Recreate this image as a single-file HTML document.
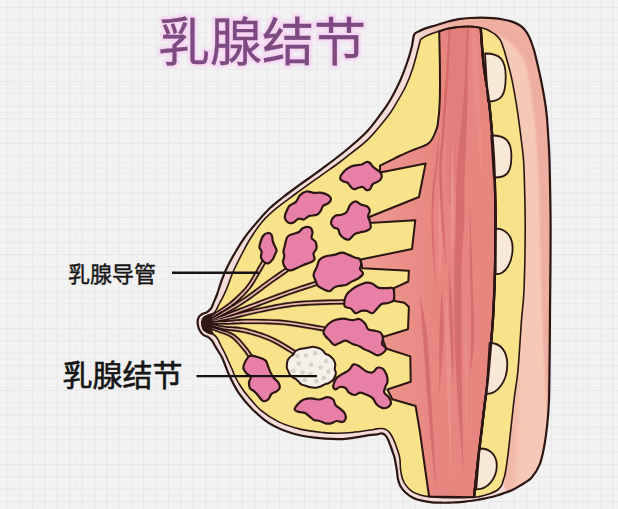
<!DOCTYPE html>
<html><head><meta charset="utf-8"><title>乳腺结节</title>
<style>html,body{margin:0;padding:0;background:#f3f3f4;font-family:"Liberation Sans",sans-serif}svg{display:block}</style></head>
<body><svg width="618" height="509" viewBox="0 0 618 509">
<defs>
<filter id="b1" x="-20%" y="-20%" width="140%" height="140%"><feGaussianBlur stdDeviation="1.3"/></filter>
<filter id="b3" x="-50%" y="-50%" width="200%" height="200%"><feGaussianBlur stdDeviation="0.5"/></filter>
<filter id="b4" x="-100%" y="-10%" width="300%" height="120%"><feGaussianBlur stdDeviation="0.45"/></filter>
<filter id="b5" x="-50%" y="-20%" width="200%" height="140%"><feGaussianBlur stdDeviation="2.5"/></filter>
<filter id="b2" x="-10%" y="-30%" width="120%" height="160%"><feGaussianBlur stdDeviation="0.9"/></filter>
<linearGradient id="mg" gradientUnits="userSpaceOnUse" x1="365" y1="0" x2="436" y2="0"><stop offset="0" stop-color="#ed9a92"/><stop offset="1" stop-color="#e7867f"/></linearGradient>
<linearGradient id="tg" gradientUnits="userSpaceOnUse" x1="414" y1="0" x2="452" y2="0"><stop offset="0" stop-color="#f4ddd8"/><stop offset="1" stop-color="#efafa0"/></linearGradient>
<clipPath id="cm"><path d="M480.7 27.7C481.2 33.9 482.3 53.2 483.6 64.7C484.9 76.2 487 86.2 488.4 97C489.8 107.8 490.8 118.9 491.7 129.4C492.6 139.9 493.4 148.2 494 160C494.6 171.8 495.1 188.2 495.3 200C495.6 211.8 495.6 219.3 495.5 231C495.4 242.7 495.3 256.8 495 270C494.7 283.2 494.2 296.7 493.5 310C492.8 323.3 491.5 338 490.5 350C489.5 362 488.6 372.8 487.6 382C486.6 391.2 485.6 396.6 484.6 405C483.6 413.4 482.6 422.4 481.4 432.4C480.2 442.3 478.7 453.9 477.5 464.7C476.3 475.5 474.6 491.8 474 497.2L429.1 496.6L425 468L420 432.4L415.6 406L392.3 399.2L387.4 389.5L410.7 381.7L410.3 356.4L386 348.5L382 337.2L408 329.3L408.9 307L404.4 302.7L393.3 300.8L394 288.2L408.3 281.5L408.9 270.8L362.3 268.3L360.7 259.5L412 249L415.3 220.3L368.5 223L369.8 216.7L419 197L425.6 163.6L380.2 172.4L380 165.7C381.6 164.9 386.5 162.5 389.7 160.9C392.9 159.3 396.2 157.5 399.4 156C402.6 154.5 405.9 153.1 409.1 151.7C412.3 150.3 415.9 149 418.8 147.8C421.7 146.6 424.5 145.9 426.6 144.7C428.7 143.5 429.8 142.4 431.2 140.5C432.6 138.6 433.9 135.8 435 133C436.1 130.2 437 129.5 437.8 124C438.6 118.5 439.5 109.9 439.8 100C440.1 90.1 440 76.2 439.9 64.7C439.8 53.2 439.3 36.9 439.2 31.3C440.6 30.9 444.1 29.5 447.3 28.8C450.5 28.1 454.8 27.3 458.6 26.9C462.4 26.5 466.3 26.4 470 26.5C473.7 26.6 478.9 27.5 480.7 27.7Z"/></clipPath>
</defs>
<rect width="618" height="509" fill="#f3f3f4"/>
<path d="M14.1 0V509M26.4 0V509M38.8 0V509M51.1 0V509M63.5 0V509M75.8 0V509M88.2 0V509M100.5 0V509M112.9 0V509M125.2 0V509M137.6 0V509M149.9 0V509M162.3 0V509M174.6 0V509M187 0V509M199.3 0V509M211.7 0V509M224 0V509M236.4 0V509M248.7 0V509M261.1 0V509M273.4 0V509M285.8 0V509M298.1 0V509M310.5 0V509M322.8 0V509M335.2 0V509M347.5 0V509M359.9 0V509M372.2 0V509M384.6 0V509M396.9 0V509M409.3 0V509M421.6 0V509M434 0V509M446.3 0V509M458.7 0V509M471 0V509M483.4 0V509M495.7 0V509M508.1 0V509M520.4 0V509M532.8 0V509M545.1 0V509M557.5 0V509M569.8 0V509M582.2 0V509M594.5 0V509M606.9 0V509M0 13.7H618M0 26H618M0 38.4H618M0 50.7H618M0 63.1H618M0 75.4H618M0 87.8H618M0 100.1H618M0 112.5H618M0 124.8H618M0 137.2H618M0 149.5H618M0 161.9H618M0 174.2H618M0 186.6H618M0 198.9H618M0 211.3H618M0 223.6H618M0 236H618M0 248.3H618M0 260.7H618M0 273H618M0 285.4H618M0 297.7H618M0 310.1H618M0 322.4H618M0 334.8H618M0 347.1H618M0 359.5H618M0 371.8H618M0 384.2H618M0 396.5H618M0 408.9H618M0 421.2H618M0 433.6H618M0 445.9H618M0 458.3H618M0 470.6H618M0 483H618M0 495.3H618M0 507.7H618" stroke="#eeeeef" stroke-width="0.8" fill="none"/>
<path d="M7.9 0V509M20.2 0V509M32.6 0V509M45 0V509M57.3 0V509M69.7 0V509M82 0V509M94.3 0V509M106.7 0V509M119 0V509M131.4 0V509M143.7 0V509M156.1 0V509M168.4 0V509M180.8 0V509M193.1 0V509M205.5 0V509M217.8 0V509M230.2 0V509M242.5 0V509M254.9 0V509M267.2 0V509M279.6 0V509M291.9 0V509M304.3 0V509M316.7 0V509M329 0V509M341.4 0V509M353.7 0V509M366.1 0V509M378.4 0V509M390.8 0V509M403.1 0V509M415.5 0V509M427.8 0V509M440.2 0V509M452.5 0V509M464.9 0V509M477.2 0V509M489.6 0V509M501.9 0V509M514.3 0V509M526.6 0V509M539 0V509M551.3 0V509M563.7 0V509M576 0V509M588.4 0V509M600.7 0V509M613.1 0V509M0 7.5H618M0 19.9H618M0 32.2H618M0 44.6H618M0 56.9H618M0 69.2H618M0 81.6H618M0 93.9H618M0 106.3H618M0 118.6H618M0 131H618M0 143.3H618M0 155.7H618M0 168H618M0 180.4H618M0 192.7H618M0 205.1H618M0 217.4H618M0 229.8H618M0 242.1H618M0 254.5H618M0 266.8H618M0 279.2H618M0 291.5H618M0 303.9H618M0 316.2H618M0 328.6H618M0 341H618M0 353.3H618M0 365.7H618M0 378H618M0 390.4H618M0 402.7H618M0 415.1H618M0 427.4H618M0 439.8H618M0 452.1H618M0 464.5H618M0 476.8H618M0 489.2H618M0 501.5H618" stroke="#e8e8ea" stroke-width="1" fill="none"/>
<text x="158" y="61" font-family="'Liberation Sans','Noto Sans CJK SC',sans-serif" font-size="52" fill="none" stroke="#f6d6f3" stroke-width="5.6" stroke-linejoin="round" filter="url(#b2)">乳腺结节</text>
<text x="158" y="61" font-family="'Liberation Sans','Noto Sans CJK SC',sans-serif" font-size="52" fill="#7d4a81" stroke="#7d4a81" stroke-width="0.3">乳腺结节</text>
<path id="sil" d="M414.1 34.8C415.2 32.2 416.8 32.6 418.5 31.6C420.2 30.6 421.2 30 424.2 28.9C427.1 27.8 432.3 26.4 436.2 25.2C440.1 24 443.6 22.8 447.3 21.8C451 20.8 454.8 19.8 458.6 19.2C462.4 18.6 466.2 18.2 470 18C473.8 17.8 477.5 17.7 481.3 17.7C485.1 17.7 489 17.9 492.6 18.2C496.2 18.5 499.8 18.9 503 19.5C506.2 20.1 509.3 20.7 512 21.6C514.7 22.5 516.9 23.5 519 24.8C521.1 26.1 522.8 27.6 524.5 29.5C526.2 31.4 527.7 33.8 529 36.5C530.3 39.2 531.5 42.4 532.5 45.5C533.5 48.6 533.8 48.6 535.3 55C536.8 61.4 539.9 74.3 541.8 84C543.7 93.7 545.4 103.3 546.5 113C547.6 122.7 548.1 134.2 548.6 142C549.1 149.8 549.2 150.3 549.5 160C549.8 169.7 550.1 188.2 550.3 200C550.5 211.8 550.6 219.3 550.6 231C550.6 242.7 550.5 256.8 550.4 270C550.3 283.2 550.1 295 550 310C549.9 325 549.8 345 549.6 360C549.4 375 549.4 389.2 549 400C548.6 410.8 548.1 416.9 547.2 425C546.3 433.1 545.1 441.9 543.8 448.5C542.5 455.1 541.6 459.8 539.6 464.7C537.6 469.6 534.8 474.2 531.5 477.7C528.2 481.2 523.2 483.6 520 485.7C516.8 487.8 514.8 488.9 512.4 490C510 491.1 508.6 491.6 505.9 492.5C503.2 493.4 499.4 494.8 496.2 495.7C493 496.6 489.2 497.4 486.5 498C483.8 498.6 483.6 498.7 480 499.3C476.4 499.9 470 501.1 465 501.6C460 502.2 454 502.4 450 502.6C446 502.8 444 502.8 441 502.7C438 502.6 435 502.6 432 502.3C429 502 425.9 501.6 422.9 500.9C419.9 500.2 416.9 499.6 414 498.2C411.1 496.8 408 494.8 405.7 492.7C403.4 490.6 401.5 488.2 400.2 485.8C398.9 483.4 398.4 480.8 397.8 478.2C397.2 475.6 397.4 473.5 396.8 470C396.2 466.5 395.1 460 394.4 457C393.7 454 393.3 454 392.7 452.2C392.1 450.4 391.4 448.2 390.6 446C389.8 443.8 388.8 441 387.9 439.2C387 437.4 386.1 436 385.1 435C384.1 434 383.1 433.4 381.7 433.3C380.3 433.2 379 434.1 376.9 434.4C374.8 434.7 373.5 434.5 368.9 435.2C364.3 435.9 354.8 437.6 349.5 438.3C344.2 439 343.1 439.3 337.3 439.2C331.5 439.1 322.2 438.7 314.7 437.7C307.1 436.7 299.5 435.5 292 433.2C284.5 430.9 276.4 427.6 269.8 423.6C263.2 419.6 257.5 414.2 252.4 409.2C247.3 404.1 242.8 398.8 239 393.3C235.2 387.8 232.3 381.8 229.6 376C226.8 370.2 224.5 362.8 222.5 358.5C220.5 354.2 218.8 352.2 217.5 350C216.2 347.8 215.4 346.5 214.5 345C213.6 343.5 213.3 342.3 212.3 341C211.3 339.7 210 338.3 208.6 337.3C207.2 336.3 205.1 336.2 203.7 335.2C202.3 334.2 201.1 332.8 200.2 331.3C199.3 329.8 198.6 328 198.2 326.4C197.8 324.8 197.5 323.1 197.6 321.5C197.7 319.9 198.2 318.2 198.9 317C199.6 315.8 200.5 315 201.9 314.2C203.3 313.4 205.6 313.1 207.1 312.1C208.6 311.2 209.9 310 211 308.5C212.1 307 212.5 305.2 213.5 302.9C214.5 300.6 215.6 298.3 217 294.5C218.4 290.7 220.1 284.6 221.8 280C223.5 275.4 225.1 271.6 227.3 267C229.5 262.4 232.2 257.5 235.2 252.5C238.1 247.5 241.3 242.2 245 237C248.7 231.8 253.4 226.3 257.6 221.5C261.8 216.7 265.9 211.9 270 208C274.1 204.1 277.7 201.4 282 198C286.3 194.6 289.4 192.4 296 187.5C302.6 182.6 313.7 174.9 321.9 168.8C330.1 162.7 337.8 157.1 345.2 151C352.6 144.9 359.9 138.8 366 132.5C372.1 126.2 377.4 118.4 381.5 113C385.6 107.6 387.2 105.3 390.3 100C393.4 94.7 397.2 87.1 400 81C402.8 74.9 404.9 69.1 406.8 63.5C408.8 57.9 410.5 52 411.7 47.2C412.9 42.4 413 37.4 414.1 34.8Z" fill="#f4ddd8"/>
<clipPath id="cb"><path d="M414.1 34.8C414.8 34.3 416.8 32.6 418.5 31.6C420.2 30.6 421.2 30 424.2 28.9C427.1 27.8 432.3 26.4 436.2 25.2C440.1 24 443.6 22.8 447.3 21.8C451 20.8 454.8 19.8 458.6 19.2C462.4 18.6 466.2 18.2 470 18C473.8 17.8 477.5 17.7 481.3 17.7C485.1 17.7 489 17.9 492.6 18.2C496.2 18.5 499.8 18.9 503 19.5C506.2 20.1 509.3 20.7 512 21.6C514.7 22.5 516.9 23.5 519 24.8C521.1 26.1 522.8 27.6 524.5 29.5C526.2 31.4 527.7 33.8 529 36.5C530.3 39.2 531.5 42.4 532.5 45.5C533.5 48.6 533.8 48.6 535.3 55C536.8 61.4 539.9 74.3 541.8 84C543.7 93.7 545.4 103.3 546.5 113C547.6 122.7 548.1 134.2 548.6 142C549.1 149.8 549.2 150.3 549.5 160C549.8 169.7 550.1 188.2 550.3 200C550.5 211.8 550.6 219.3 550.6 231C550.6 242.7 550.5 256.8 550.4 270C550.3 283.2 550.1 295 550 310C549.9 325 549.8 345 549.6 360C549.4 375 549.4 389.2 549 400C548.6 410.8 548.1 416.9 547.2 425C546.3 433.1 545.1 441.9 543.8 448.5C542.5 455.1 541.6 459.8 539.6 464.7C537.6 469.6 534.8 474.2 531.5 477.7C528.2 481.2 523.2 483.6 520 485.7C516.8 487.8 514.8 488.9 512.4 490C510 491.1 507 492.1 505.9 492.5L503 481C503.4 479.5 504.5 477.8 505.5 472C506.5 466.2 507.6 458 509 446C510.4 434 512.5 412.7 514 400C515.5 387.3 516.8 383.3 518 370C519.2 356.7 520.5 333.3 521.5 320C522.5 306.7 523.4 304.8 524 290C524.6 275.2 525.1 248.5 525.2 231C525.3 213.5 524.8 196.8 524.5 185C524.2 173.2 524.1 168.2 523.5 160C522.9 151.8 521.9 144.9 520.8 136C519.7 127.1 518.3 116.5 516.8 106.8C515.2 97.1 513.5 86.9 511.5 77.7C509.5 68.5 506.4 58 504.6 51.8C502.8 45.6 502.1 43.2 500.5 40.3C498.9 37.3 495.8 35.1 494.9 34.1C493.6 33.4 489.4 30.7 487 29.6C484.6 28.5 483.5 28.2 480.7 27.7C477.9 27.2 473.7 26.6 470 26.5C466.3 26.4 462.4 26.5 458.6 26.9C454.8 27.3 450.5 28.1 447.3 28.8C444.1 29.5 442.4 30.3 439.2 31.3C436 32.3 430.8 34 428.3 35C425.8 36 424.7 36.8 424 37.2L420.5 39.5Z"/></clipPath>
<path d="M414.1 34.8C414.8 34.3 416.8 32.6 418.5 31.6C420.2 30.6 421.2 30 424.2 28.9C427.1 27.8 432.3 26.4 436.2 25.2C440.1 24 443.6 22.8 447.3 21.8C451 20.8 454.8 19.8 458.6 19.2C462.4 18.6 466.2 18.2 470 18C473.8 17.8 477.5 17.7 481.3 17.7C485.1 17.7 489 17.9 492.6 18.2C496.2 18.5 499.8 18.9 503 19.5C506.2 20.1 509.3 20.7 512 21.6C514.7 22.5 516.9 23.5 519 24.8C521.1 26.1 522.8 27.6 524.5 29.5C526.2 31.4 527.7 33.8 529 36.5C530.3 39.2 531.5 42.4 532.5 45.5C533.5 48.6 533.8 48.6 535.3 55C536.8 61.4 539.9 74.3 541.8 84C543.7 93.7 545.4 103.3 546.5 113C547.6 122.7 548.1 134.2 548.6 142C549.1 149.8 549.2 150.3 549.5 160C549.8 169.7 550.1 188.2 550.3 200C550.5 211.8 550.6 219.3 550.6 231C550.6 242.7 550.5 256.8 550.4 270C550.3 283.2 550.1 295 550 310C549.9 325 549.8 345 549.6 360C549.4 375 549.4 389.2 549 400C548.6 410.8 548.1 416.9 547.2 425C546.3 433.1 545.1 441.9 543.8 448.5C542.5 455.1 541.6 459.8 539.6 464.7C537.6 469.6 534.8 474.2 531.5 477.7C528.2 481.2 523.2 483.6 520 485.7C516.8 487.8 514.8 488.9 512.4 490C510 491.1 507 492.1 505.9 492.5L503 481C503.4 479.5 504.5 477.8 505.5 472C506.5 466.2 507.6 458 509 446C510.4 434 512.5 412.7 514 400C515.5 387.3 516.8 383.3 518 370C519.2 356.7 520.5 333.3 521.5 320C522.5 306.7 523.4 304.8 524 290C524.6 275.2 525.1 248.5 525.2 231C525.3 213.5 524.8 196.8 524.5 185C524.2 173.2 524.1 168.2 523.5 160C522.9 151.8 521.9 144.9 520.8 136C519.7 127.1 518.3 116.5 516.8 106.8C515.2 97.1 513.5 86.9 511.5 77.7C509.5 68.5 506.4 58 504.6 51.8C502.8 45.6 502.1 43.2 500.5 40.3C498.9 37.3 495.8 35.1 494.9 34.1C493.6 33.4 489.4 30.7 487 29.6C484.6 28.5 483.5 28.2 480.7 27.7C477.9 27.2 473.7 26.6 470 26.5C466.3 26.4 462.4 26.5 458.6 26.9C454.8 27.3 450.5 28.1 447.3 28.8C444.1 29.5 442.4 30.3 439.2 31.3C436 32.3 430.8 34 428.3 35C425.8 36 424.7 36.8 424 37.2L420.5 39.5Z" fill="#f6c9b6"/>
<g clip-path="url(#cb)"><path d="M410 50L424 37.2L428.3 35L439.2 31.3L447.3 28.8L458.6 26.9L470 26.5L480.7 27.7L487 29.6L494.9 34.1C496.4 34.8 500.8 36.5 504 38.5C507.2 40.5 511.3 43.4 514 46C516.7 48.6 518.4 51.7 520 54C521.6 56.3 522.5 56.5 523.8 60C525.1 63.5 526.6 68.3 528 75C529.4 81.7 530.8 90.8 532 100C533.2 109.2 534.6 120 535.5 130C536.4 140 536.9 150 537.5 160C538.1 170 538.6 180 539 190C539.4 200 539.5 205 539.8 220C540.1 235 540.3 256.7 541 280C541.7 303.3 543.1 340 544 360C544.9 380 545.6 389.2 546.3 400C547 410.8 547.7 420.8 548 425L562 432L562 0L400 0Z" fill="url(#tg)" filter="url(#b1)"/><path d="M518 372C518 378.3 518.3 397 518.3 410C518.2 423 518.2 438.3 517.7 450C517.2 461.7 516.1 472.3 515 480C513.9 487.7 511.7 493.3 511 496L495 499L500 480L507 445L512 405L516 372Z" fill="#efafa0" opacity="0.6" filter="url(#b5)"/></g>
<clipPath id="ci"><path d="M420.5 39.5C420 41.4 418.8 46.1 417.5 51C416.2 55.9 414.6 62.8 412.7 68.6C410.8 74.4 408.7 80.2 405.9 86C403.1 91.8 399 98.7 396 103.7C393 108.7 392.6 110.1 388 116C383.4 121.9 374.2 133.1 368.5 138.9C362.8 144.7 358.8 147.2 354 151C349.2 154.8 345.4 158 340 162C334.6 166 329.2 169.6 321.9 174.8C314.6 180.1 303.7 187.8 296 193.5C288.3 199.2 281.2 204.1 275.6 208.8C270 213.5 266.5 216.6 262.4 221.5C258.2 226.4 254 232.8 250.7 238C247.4 243.2 245.3 247.5 242.4 253C239.5 258.5 236.1 265.2 233.5 271C230.9 276.8 228.8 283.5 227 288C225.2 292.5 223.7 295.4 222.4 298C221.1 300.6 220.4 301.6 219.4 303.5C218.4 305.4 217.4 308.1 216.4 309.7C215.4 311.3 214.9 312.5 213.5 313.4C212.1 314.3 209.6 314.5 208 315.2C206.4 315.9 204.7 316.6 203.7 317.6C202.7 318.7 202.2 320.1 201.9 321.5C201.7 322.9 201.8 324.5 202.2 326C202.5 327.5 203 329.2 204 330.3C205 331.4 206.4 332.1 208 332.8C209.6 333.5 211.9 333.6 213.5 334.5C215.1 335.4 216.2 336.8 217.4 338.5C218.6 340.2 219.5 342.8 220.6 345C221.7 347.2 222.8 349.2 224 351.5C225.2 353.8 226.2 356.2 227.5 359C228.8 361.8 230.2 365.1 231.5 368C232.8 370.9 233.6 373.6 235 376.5C236.4 379.4 237.9 382.1 240 385.3C242.1 388.5 244.1 391.6 247.6 395.8C251.1 400 255.8 406 261 410.4C266.2 414.8 272.1 418.7 278.8 421.9C285.5 425.1 293.5 427.6 301 429.4C308.5 431.2 317.7 432 323.7 432.6C329.7 433.2 332.3 433.2 337 433.2C341.7 433.2 346.7 433 352 432.5C357.3 432 364.8 430.9 368.9 430.3C373 429.7 374.6 429.2 376.9 428.9C379.1 428.6 380.8 428.3 382.4 428.5C384 428.7 385.2 429.1 386.5 429.9C387.8 430.6 388.8 431.4 389.9 433C391 434.6 392.4 437 393.4 439.2C394.4 441.4 395.2 443.5 396.1 446C397 448.5 398.2 452 398.9 454.3C399.5 456.6 399.7 457.4 400 460C400.3 462.6 400.2 467 400.6 470C401 473 401.5 475.7 402.3 478.2C403.1 480.7 404.1 482.9 405.7 485.1C407.3 487.3 409.6 489.7 411.9 491.3C414.2 492.9 416.6 493.8 419.5 494.7C422.4 495.6 423.7 496.1 429.1 496.6C434.5 497.1 444.5 497.7 452 497.8C459.5 497.9 469.3 497.4 474 497.2C478.7 497 477.4 497 480 496.4C482.6 495.8 486.8 494.9 489.7 493.8C492.6 492.7 495.5 491.4 497.5 490C499.5 488.6 500.6 487 501.5 485.5C502.4 484 502.8 481.8 503 481C503.4 479.5 504.5 477.8 505.5 472C506.5 466.2 507.6 458 509 446C510.4 434 512.5 412.7 514 400C515.5 387.3 516.8 383.3 518 370C519.2 356.7 520.5 333.3 521.5 320C522.5 306.7 523.4 304.8 524 290C524.6 275.2 525.1 248.5 525.2 231C525.3 213.5 524.8 196.8 524.5 185C524.2 173.2 524.1 168.2 523.5 160C522.9 151.8 521.9 144.9 520.8 136C519.7 127.1 518.3 116.5 516.8 106.8C515.2 97.1 513.5 86.9 511.5 77.7C509.5 68.5 506.4 58 504.6 51.8C502.8 45.6 502.1 43.2 500.5 40.3C498.9 37.3 495.8 35.1 494.9 34.1C493.6 33.4 489.4 30.7 487 29.6C484.6 28.5 483.5 28.2 480.7 27.7C477.9 27.2 473.7 26.6 470 26.5C466.3 26.4 462.4 26.5 458.6 26.9C454.8 27.3 450.5 28.1 447.3 28.8C444.1 29.5 442.4 30.3 439.2 31.3C436 32.3 430.8 34 428.3 35C425.8 36 424.7 36.8 424 37.2Z"/></clipPath>
<path d="M420.5 39.5C420 41.4 418.8 46.1 417.5 51C416.2 55.9 414.6 62.8 412.7 68.6C410.8 74.4 408.7 80.2 405.9 86C403.1 91.8 399 98.7 396 103.7C393 108.7 392.6 110.1 388 116C383.4 121.9 374.2 133.1 368.5 138.9C362.8 144.7 358.8 147.2 354 151C349.2 154.8 345.4 158 340 162C334.6 166 329.2 169.6 321.9 174.8C314.6 180.1 303.7 187.8 296 193.5C288.3 199.2 281.2 204.1 275.6 208.8C270 213.5 266.5 216.6 262.4 221.5C258.2 226.4 254 232.8 250.7 238C247.4 243.2 245.3 247.5 242.4 253C239.5 258.5 236.1 265.2 233.5 271C230.9 276.8 228.8 283.5 227 288C225.2 292.5 223.7 295.4 222.4 298C221.1 300.6 220.4 301.6 219.4 303.5C218.4 305.4 217.4 308.1 216.4 309.7C215.4 311.3 214.9 312.5 213.5 313.4C212.1 314.3 209.6 314.5 208 315.2C206.4 315.9 204.7 316.6 203.7 317.6C202.7 318.7 202.2 320.1 201.9 321.5C201.7 322.9 201.8 324.5 202.2 326C202.5 327.5 203 329.2 204 330.3C205 331.4 206.4 332.1 208 332.8C209.6 333.5 211.9 333.6 213.5 334.5C215.1 335.4 216.2 336.8 217.4 338.5C218.6 340.2 219.5 342.8 220.6 345C221.7 347.2 222.8 349.2 224 351.5C225.2 353.8 226.2 356.2 227.5 359C228.8 361.8 230.2 365.1 231.5 368C232.8 370.9 233.6 373.6 235 376.5C236.4 379.4 237.9 382.1 240 385.3C242.1 388.5 244.1 391.6 247.6 395.8C251.1 400 255.8 406 261 410.4C266.2 414.8 272.1 418.7 278.8 421.9C285.5 425.1 293.5 427.6 301 429.4C308.5 431.2 317.7 432 323.7 432.6C329.7 433.2 332.3 433.2 337 433.2C341.7 433.2 346.7 433 352 432.5C357.3 432 364.8 430.9 368.9 430.3C373 429.7 374.6 429.2 376.9 428.9C379.1 428.6 380.8 428.3 382.4 428.5C384 428.7 385.2 429.1 386.5 429.9C387.8 430.6 388.8 431.4 389.9 433C391 434.6 392.4 437 393.4 439.2C394.4 441.4 395.2 443.5 396.1 446C397 448.5 398.2 452 398.9 454.3C399.5 456.6 399.7 457.4 400 460C400.3 462.6 400.2 467 400.6 470C401 473 401.5 475.7 402.3 478.2C403.1 480.7 404.1 482.9 405.7 485.1C407.3 487.3 409.6 489.7 411.9 491.3C414.2 492.9 416.6 493.8 419.5 494.7C422.4 495.6 423.7 496.1 429.1 496.6C434.5 497.1 444.5 497.7 452 497.8C459.5 497.9 469.3 497.4 474 497.2C478.7 497 477.4 497 480 496.4C482.6 495.8 486.8 494.9 489.7 493.8C492.6 492.7 495.5 491.4 497.5 490C499.5 488.6 500.6 487 501.5 485.5C502.4 484 502.8 481.8 503 481C503.4 479.5 504.5 477.8 505.5 472C506.5 466.2 507.6 458 509 446C510.4 434 512.5 412.7 514 400C515.5 387.3 516.8 383.3 518 370C519.2 356.7 520.5 333.3 521.5 320C522.5 306.7 523.4 304.8 524 290C524.6 275.2 525.1 248.5 525.2 231C525.3 213.5 524.8 196.8 524.5 185C524.2 173.2 524.1 168.2 523.5 160C522.9 151.8 521.9 144.9 520.8 136C519.7 127.1 518.3 116.5 516.8 106.8C515.2 97.1 513.5 86.9 511.5 77.7C509.5 68.5 506.4 58 504.6 51.8C502.8 45.6 502.1 43.2 500.5 40.3C498.9 37.3 495.8 35.1 494.9 34.1C493.6 33.4 489.4 30.7 487 29.6C484.6 28.5 483.5 28.2 480.7 27.7C477.9 27.2 473.7 26.6 470 26.5C466.3 26.4 462.4 26.5 458.6 26.9C454.8 27.3 450.5 28.1 447.3 28.8C444.1 29.5 442.4 30.3 439.2 31.3C436 32.3 430.8 34 428.3 35C425.8 36 424.7 36.8 424 37.2Z" fill="#f8e28a"/>
<path d="M480.7 27.7C481.2 33.9 482.3 53.2 483.6 64.7C484.9 76.2 487 86.2 488.4 97C489.8 107.8 490.8 118.9 491.7 129.4C492.6 139.9 493.4 148.2 494 160C494.6 171.8 495.1 188.2 495.3 200C495.6 211.8 495.6 219.3 495.5 231C495.4 242.7 495.3 256.8 495 270C494.7 283.2 494.2 296.7 493.5 310C492.8 323.3 491.5 338 490.5 350C489.5 362 488.6 372.8 487.6 382C486.6 391.2 485.6 396.6 484.6 405C483.6 413.4 482.6 422.4 481.4 432.4C480.2 442.3 478.7 453.9 477.5 464.7C476.3 475.5 474.6 491.8 474 497.2L429.1 496.6L425 468L420 432.4L415.6 406L392.3 399.2L387.4 389.5L410.7 381.7L410.3 356.4L386 348.5L382 337.2L408 329.3L408.9 307L404.4 302.7L393.3 300.8L394 288.2L408.3 281.5L408.9 270.8L362.3 268.3L360.7 259.5L412 249L415.3 220.3L368.5 223L369.8 216.7L419 197L425.6 163.6L380.2 172.4L380 165.7C381.6 164.9 386.5 162.5 389.7 160.9C392.9 159.3 396.2 157.5 399.4 156C402.6 154.5 405.9 153.1 409.1 151.7C412.3 150.3 415.9 149 418.8 147.8C421.7 146.6 424.5 145.9 426.6 144.7C428.7 143.5 429.8 142.4 431.2 140.5C432.6 138.6 433.9 135.8 435 133C436.1 130.2 437 129.5 437.8 124C438.6 118.5 439.5 109.9 439.8 100C440.1 90.1 440 76.2 439.9 64.7C439.8 53.2 439.3 36.9 439.2 31.3C440.6 30.9 444.1 29.5 447.3 28.8C450.5 28.1 454.8 27.3 458.6 26.9C462.4 26.5 466.3 26.4 470 26.5C473.7 26.6 478.9 27.5 480.7 27.7Z" fill="url(#mg)"/>
<g clip-path="url(#cm)">
<path d="M450 29.6C447.5 34.8 448.4 59 448 69.6C447.6 80.3 447.2 99 447 109.7C446.8 120.3 446.4 137.7 446.5 149.7C446.6 161.7 447 193.2 448 199.9C449 206.6 452.5 206.7 454 200.1C455.5 193.5 458.3 162.3 459.5 150.3C460.7 138.3 462.3 121 463 110.3C463.7 99.7 464.5 81 465 70.4C465.5 59.7 469 35.9 467 30.4C465 25 452.5 24.3 450 29.6Z" fill="#d3676b" opacity="0.22" filter="url(#b4)"/>
<path d="M448.7 31C448.2 36.1 446.9 60.7 446.3 69.9C445.7 79.1 444.6 91.2 444 99.9C443.4 108.6 442.3 126.2 441.7 134.9C441.1 143.6 439.5 156.3 439.3 165C439.1 173.7 439.8 190 440.4 200.1C440.9 210.1 442.4 231.4 443.2 240.1C443.9 248.7 445.5 261.7 445.9 265C446.3 268.3 446.2 268.3 446.1 265C446 261.6 445.3 248.6 444.8 239.9C444.4 231.3 443.1 209.9 442.6 199.9C442.2 190 441.5 173.7 441.7 165C441.9 156.4 443.6 143.8 444.3 135.1C444.9 126.4 446 108.8 446.6 100.1C447.2 91.4 448.2 79.3 448.7 70.1C449.2 60.9 450.3 36.3 450.3 31C450.3 25.8 449.2 25.8 448.7 31Z" fill="#d3676b" opacity="0.9" filter="url(#b4)"/>
<path d="M466.9 30C466.4 35.3 465.7 60.6 465.2 70C464.7 79.3 464.2 90.6 463.5 99.9C462.8 109.2 460.7 129.1 459.8 139.8C458.8 150.5 457 169.2 456.5 179.9C456 190.5 456 207.9 455.8 219.9C455.5 231.9 454.7 254.6 454.5 269.9C454.3 285.3 454 317.7 454.5 335.1C455 352.4 456.7 382 457.9 400.1C459.1 418.2 462.5 461.5 463.2 471C463.9 480.5 463.5 480.5 463.4 471C463.3 461.5 462.4 418.1 462.1 399.9C461.8 381.8 461.6 352.3 461.5 334.9C461.4 317.6 461.1 285.4 461.5 270.1C461.9 254.8 463.8 232.1 464.2 220.1C464.6 208.1 464.2 190.8 464.5 180.1C464.8 169.5 465.8 150.9 466.2 140.2C466.6 129.5 467.3 109.5 467.5 100.1C467.7 90.7 467.6 79.4 467.8 70C468 60.7 468.8 35.4 468.7 30C468.6 24.7 467.4 24.6 466.9 30Z" fill="#d3676b" opacity="0.8" filter="url(#b4)"/>
<path d="M439.3 135C438.8 138.3 437 152.6 436.1 159.9C435.2 167.2 433.1 181.9 432.5 189.9C431.8 197.9 431.3 212 431.4 220C431.4 228 432.2 241.6 432.7 250C433.2 258.4 435 278.6 435.4 283C435.8 287.4 435.7 287.4 435.6 283C435.5 278.6 434.6 258.4 434.3 250C434 241.6 433.2 228 433.2 220C433.3 212 433.9 198.1 434.5 190.1C435.2 182.1 437.2 167.4 437.9 160.1C438.6 152.8 439.6 138.4 439.7 135C439.9 131.7 439.7 131.7 439.3 135Z" fill="#d3676b" opacity="0.8" filter="url(#b4)"/>
<path d="M448.9 269C448.8 273.1 448.9 289.9 449.1 300.1C449.3 310.2 450.1 334.4 450.6 345C451.1 355.7 452.6 375.3 452.9 380C453.2 384.7 453 384.7 453.1 380C453.2 375.3 453.6 355.6 453.4 345C453.2 334.3 452.5 310.1 451.9 299.9C451.3 289.8 449.6 273.1 449.1 269C448.7 264.9 448.9 264.9 448.9 269Z" fill="#d3676b" opacity="0.8" filter="url(#b4)"/>
<path d="M469.9 204C469.8 211.5 469.8 244.6 470 260C470.2 275.5 471 308.7 471.1 320C471.2 331.3 471.3 337.3 471.1 344.9C470.9 352.5 470 372.7 469.9 377C469.8 381.3 469.6 381.3 470.1 377C470.6 372.8 473.4 352.7 473.9 345.1C474.4 337.5 474.2 331.3 473.9 320C473.6 308.6 472.5 275.4 472 260C471.5 244.5 470.4 211.5 470.1 204C469.9 196.5 469.9 196.5 469.9 204Z" fill="#d3676b" opacity="0.8" filter="url(#b4)"/>
<path d="M441.8 292C441.4 297.7 439.6 321.5 439.3 334.9C439 348.4 439.4 385.3 439.4 393C439.4 400.7 439 400.7 439.6 393C440.2 385.3 443.3 348.5 443.7 335.1C444.1 321.6 442.5 297.7 442.2 292C442 286.3 442.1 286.3 441.8 292Z" fill="#d3676b" opacity="0.8" filter="url(#b4)"/>
<path d="M419.9 296C420.2 301.2 421.9 321.3 422.9 335.2C423.9 349.1 426.4 384.8 427.6 400.1C428.8 415.5 430.7 438.5 431.8 450.1C432.9 461.7 435.2 482.1 435.7 487C436.2 491.9 436.1 491.9 435.9 487C435.7 482 434.8 461.5 434.2 449.9C433.6 438.3 432.3 415.2 431.4 399.9C430.4 384.5 428.6 348.7 427.1 334.8C425.6 321 421.1 301.2 420.1 296C419.2 290.8 419.5 290.8 419.9 296Z" fill="#d3676b" opacity="0.8" filter="url(#b4)"/>
<path d="M452.4 139C452.1 147.1 451.2 183.9 451.1 200C451 216.1 451.8 252 451.9 260C452 268 451.8 268 452.1 260C452.4 252 453.8 216.1 453.9 200C454 183.9 452.9 147.1 452.6 139C452.4 130.9 452.6 130.9 452.4 139Z" fill="#ee9c94" opacity="0.7" filter="url(#b4)"/>
<path d="M438.8 195C438.6 201 438.2 228.3 438.4 240C438.6 251.8 439.7 277.3 439.9 283C440.1 288.7 439.9 288.7 440.1 283C440.3 277.3 441.7 251.7 441.6 240C441.5 228.2 439.6 201 439.2 195C438.9 189 438.9 189 438.8 195Z" fill="#ee9c94" opacity="0.6" filter="url(#b4)"/>
<path d="M445.9 290C445.8 297.3 445.5 329.1 445.8 345.1C446 361.1 447.3 392 448 410C448.7 428 450.5 470.7 450.9 480C451.3 489.3 451.1 489.3 451.1 480C451.1 470.7 451.1 428 451 410C450.9 392 450.9 360.9 450.2 344.9C449.6 328.9 446.7 297.3 446.1 290C445.6 282.7 445.9 282.7 445.9 290Z" fill="#ee9c94" opacity="0.5" filter="url(#b4)"/>
<path d="M465.4 290C465.2 297.3 464.4 330.3 464.4 345C464.4 359.7 465.2 386 465.5 400C465.8 414 466.7 443.3 466.9 450C467.1 456.7 467 456.7 467.1 450C467.2 443.3 467.4 414 467.5 400C467.6 386 467.8 359.7 467.6 345C467.4 330.3 465.9 297.3 465.6 290C465.4 282.7 465.5 282.7 465.4 290Z" fill="#ee9c94" opacity="0.4" filter="url(#b4)"/>
<path d="M472 34.1C471.7 40.2 472.8 67.3 473.5 80.1C474.2 92.9 475.9 116.8 477 130.1C478.1 143.4 481.2 173.4 481.9 180C482.5 186.7 482.3 186.7 482.1 180C482 173.3 481.5 143.2 481 129.9C480.5 116.5 479.2 92.7 478.5 79.9C477.8 67.1 476.9 40 476 33.9C475.1 27.8 472.3 27.9 472 34.1Z" fill="#ee9c94" opacity="0.3" filter="url(#b4)"/>
</g>
<path d="M480.7 27.7C481.2 33.9 482.3 53.2 483.6 64.7C484.9 76.2 487 86.2 488.4 97C489.8 107.8 490.8 118.9 491.7 129.4C492.6 139.9 493.4 148.2 494 160C494.6 171.8 495.1 188.2 495.3 200C495.6 211.8 495.6 219.3 495.5 231C495.4 242.7 495.3 256.8 495 270C494.7 283.2 494.2 296.7 493.5 310C492.8 323.3 491.5 338 490.5 350C489.5 362 488.6 372.8 487.6 382C486.6 391.2 485.6 396.6 484.6 405C483.6 413.4 482.6 422.4 481.4 432.4C480.2 442.3 478.7 453.9 477.5 464.7C476.3 475.5 474.6 491.8 474 497.2L429.1 496.6L425 468L420 432.4L415.6 406L392.3 399.2L387.4 389.5L410.7 381.7L410.3 356.4L386 348.5L382 337.2L408 329.3L408.9 307L404.4 302.7L393.3 300.8L394 288.2L408.3 281.5L408.9 270.8L362.3 268.3L360.7 259.5L412 249L415.3 220.3L368.5 223L369.8 216.7L419 197L425.6 163.6L380.2 172.4L380 165.7C381.6 164.9 386.5 162.5 389.7 160.9C392.9 159.3 396.2 157.5 399.4 156C402.6 154.5 405.9 153.1 409.1 151.7C412.3 150.3 415.9 149 418.8 147.8C421.7 146.6 424.5 145.9 426.6 144.7C428.7 143.5 429.8 142.4 431.2 140.5C432.6 138.6 433.9 135.8 435 133C436.1 130.2 437 129.5 437.8 124C438.6 118.5 439.5 109.9 439.8 100C440.1 90.1 440 76.2 439.9 64.7C439.8 53.2 439.3 36.9 439.2 31.3C440.6 30.9 444.1 29.5 447.3 28.8C450.5 28.1 454.8 27.3 458.6 26.9C462.4 26.5 466.3 26.4 470 26.5C473.7 26.6 478.9 27.5 480.7 27.7Z" fill="none" stroke="#2b1613" stroke-width="2" stroke-linejoin="round"/>
<path d="M480.7 27.7C481.2 33.9 482.3 53.2 483.6 64.7C484.9 76.2 487 86.2 488.4 97C489.8 107.8 490.8 118.9 491.7 129.4C492.6 139.9 493.4 148.2 494 160C494.6 171.8 495.1 188.2 495.3 200C495.6 211.8 495.6 219.3 495.5 231C495.4 242.7 495.3 256.8 495 270C494.7 283.2 494.2 296.7 493.5 310C492.8 323.3 491.5 338 490.5 350C489.5 362 488.6 372.8 487.6 382C486.6 391.2 485.6 396.6 484.6 405C483.6 413.4 482.6 422.4 481.4 432.4C480.2 442.3 478.7 453.9 477.5 464.7C476.3 475.5 474.6 491.8 474 497.2" fill="none" stroke="#2b1613" stroke-width="2.4"/>
<path d="M485 53.5C500.1 53.2 505.7 60 505.7 76.5C505.7 94.5 502.2 101.8 487.9 101.5Z" fill="#f8e8d6" stroke="#2b1613" stroke-width="1.8" stroke-linejoin="round"/>
<path d="M491.2 135.5C506 135.2 511.4 141.1 511.4 155.7C511.4 171.4 507.9 177.8 493.8 177.5Z" fill="#f8e8d6" stroke="#2b1613" stroke-width="1.8" stroke-linejoin="round"/>
<path d="M495.6 228.6C506.1 228.3 512.6 237 512.6 247.8C512.6 262.6 505.6 274.5 495.6 274.2Z" fill="#f8e8d6" stroke="#2b1613" stroke-width="1.8" stroke-linejoin="round"/>
<path d="M489.6 343C501.4 342.7 507.3 352.4 507.3 364.4C507.3 381 497.6 394.3 486.4 394Z" fill="#f8e8d6" stroke="#2b1613" stroke-width="1.8" stroke-linejoin="round"/>
<path d="M479.6 448.5C491.1 448.2 496.8 456 496.8 465.6C496.8 478.9 487.2 489.6 476.2 489.3Z" fill="#f8e8d6" stroke="#2b1613" stroke-width="1.8" stroke-linejoin="round"/>
<path d="M480.7 27.7C481.2 33.9 482.3 53.2 483.6 64.7C484.9 76.2 487 86.2 488.4 97C489.8 107.8 490.8 118.9 491.7 129.4C492.6 139.9 493.4 148.2 494 160C494.6 171.8 495.1 188.2 495.3 200C495.6 211.8 495.6 219.3 495.5 231C495.4 242.7 495.3 256.8 495 270C494.7 283.2 494.2 296.7 493.5 310C492.8 323.3 491.5 338 490.5 350C489.5 362 488.6 372.8 487.6 382C486.6 391.2 485.6 396.6 484.6 405C483.6 413.4 482.6 422.4 481.4 432.4C480.2 442.3 478.7 453.9 477.5 464.7C476.3 475.5 474.6 491.8 474 497.2" fill="none" stroke="#2b1613" stroke-width="2.4"/>
<path d="M420.5 39.5C420 41.4 418.8 46.1 417.5 51C416.2 55.9 414.6 62.8 412.7 68.6C410.8 74.4 408.7 80.2 405.9 86C403.1 91.8 399 98.7 396 103.7C393 108.7 392.6 110.1 388 116C383.4 121.9 374.2 133.1 368.5 138.9C362.8 144.7 358.8 147.2 354 151C349.2 154.8 345.4 158 340 162C334.6 166 329.2 169.6 321.9 174.8C314.6 180.1 303.7 187.8 296 193.5C288.3 199.2 281.2 204.1 275.6 208.8C270 213.5 266.5 216.6 262.4 221.5C258.2 226.4 254 232.8 250.7 238C247.4 243.2 245.3 247.5 242.4 253C239.5 258.5 236.1 265.2 233.5 271C230.9 276.8 228.8 283.5 227 288C225.2 292.5 223.7 295.4 222.4 298C221.1 300.6 220.4 301.6 219.4 303.5C218.4 305.4 217.4 308.1 216.4 309.7C215.4 311.3 214.9 312.5 213.5 313.4C212.1 314.3 209.6 314.5 208 315.2C206.4 315.9 204.7 316.6 203.7 317.6C202.7 318.7 202.2 320.1 201.9 321.5C201.7 322.9 201.8 324.5 202.2 326C202.5 327.5 203 329.2 204 330.3C205 331.4 206.4 332.1 208 332.8C209.6 333.5 211.9 333.6 213.5 334.5C215.1 335.4 216.2 336.8 217.4 338.5C218.6 340.2 219.5 342.8 220.6 345C221.7 347.2 222.8 349.2 224 351.5C225.2 353.8 226.2 356.2 227.5 359C228.8 361.8 230.2 365.1 231.5 368C232.8 370.9 233.6 373.6 235 376.5C236.4 379.4 237.9 382.1 240 385.3C242.1 388.5 244.1 391.6 247.6 395.8C251.1 400 255.8 406 261 410.4C266.2 414.8 272.1 418.7 278.8 421.9C285.5 425.1 293.5 427.6 301 429.4C308.5 431.2 317.7 432 323.7 432.6C329.7 433.2 332.3 433.2 337 433.2C341.7 433.2 346.7 433 352 432.5C357.3 432 364.8 430.9 368.9 430.3C373 429.7 374.6 429.2 376.9 428.9C379.1 428.6 380.8 428.3 382.4 428.5C384 428.7 385.2 429.1 386.5 429.9C387.8 430.6 388.8 431.4 389.9 433C391 434.6 392.4 437 393.4 439.2C394.4 441.4 395.2 443.5 396.1 446C397 448.5 398.2 452 398.9 454.3C399.5 456.6 399.7 457.4 400 460C400.3 462.6 400.2 467 400.6 470C401 473 401.5 475.7 402.3 478.2C403.1 480.7 404.1 482.9 405.7 485.1C407.3 487.3 409.6 489.7 411.9 491.3C414.2 492.9 416.6 493.8 419.5 494.7C422.4 495.6 423.7 496.1 429.1 496.6C434.5 497.1 444.5 497.7 452 497.8C459.5 497.9 469.3 497.4 474 497.2C478.7 497 477.4 497 480 496.4C482.6 495.8 486.8 494.9 489.7 493.8C492.6 492.7 495.5 491.4 497.5 490C499.5 488.6 500.6 487 501.5 485.5C502.4 484 502.8 481.8 503 481C503.4 479.5 504.5 477.8 505.5 472C506.5 466.2 507.6 458 509 446C510.4 434 512.5 412.7 514 400C515.5 387.3 516.8 383.3 518 370C519.2 356.7 520.5 333.3 521.5 320C522.5 306.7 523.4 304.8 524 290C524.6 275.2 525.1 248.5 525.2 231C525.3 213.5 524.8 196.8 524.5 185C524.2 173.2 524.1 168.2 523.5 160C522.9 151.8 521.9 144.9 520.8 136C519.7 127.1 518.3 116.5 516.8 106.8C515.2 97.1 513.5 86.9 511.5 77.7C509.5 68.5 506.4 58 504.6 51.8C502.8 45.6 502.1 43.2 500.5 40.3C498.9 37.3 495.8 35.1 494.9 34.1C493.6 33.4 489.4 30.7 487 29.6C484.6 28.5 483.5 28.2 480.7 27.7C477.9 27.2 473.7 26.6 470 26.5C466.3 26.4 462.4 26.5 458.6 26.9C454.8 27.3 450.5 28.1 447.3 28.8C444.1 29.5 442.4 30.3 439.2 31.3C436 32.3 430.8 34 428.3 35C425.8 36 424.7 36.8 424 37.2Z" fill="none" stroke="#2b1613" stroke-width="1.6" stroke-linejoin="round"/>
<g clip-path="url(#ci)">
<path d="M205.4 323.7L206.1 323.2L206.9 322.5L207.8 321.8L208.9 320.9L210.1 320L211.5 319.1L213 318L214.7 317L216.6 315.8L218.7 314.6L221 313.2L223.5 311.8L226.1 310.3L228.6 308.8L231.1 307.1L233.5 305.5L235.7 303.7L237.8 301.9L239.9 300L242 298L244 296L245.9 294.1L247.7 292.1L249.4 290.1L250.9 288.2L252.4 286.2L253.7 284.2L254.9 282.3L256 280.3L257.1 278.5L258.2 276.7L259.2 275L260.2 273.3L261.3 271.5L262.3 269.7L263.3 267.9L264.2 266.3L265 264.9L265.7 263.7L266.2 262.8L261.8 260.2L261.3 261.2L260.6 262.4L259.8 263.8L258.9 265.4L257.9 267.1L256.9 268.9L255.9 270.7L254.8 272.4L253.8 274.1L252.7 275.9L251.7 277.8L250.6 279.6L249.4 281.4L248.2 283.3L246.9 285.1L245.4 286.9L243.9 288.7L242.1 290.6L240.3 292.5L238.4 294.3L236.4 296.2L234.4 298L232.4 299.8L230.3 301.5L228.3 303.2L226 304.9L223.7 306.6L221.3 308.2L218.9 309.8L216.7 311.3L214.6 312.7L212.7 314L211.1 315.3L209.6 316.5L208.2 317.6L207 318.6L205.9 319.4L205 320.2L204.2 320.8L203.6 321.3ZM205.1 323.9L206.2 323.4L207.4 322.8L209 322.1L210.8 321.4L212.8 320.5L215 319.6L217.4 318.4L219.9 317.2L222.7 315.7L225.8 314.1L229.1 312.3L232.6 310.5L236.1 308.5L239.6 306.3L243 304.2L246.2 302.1L249.3 300L252.4 297.8L255.4 295.6L258.3 293.4L261.2 291.2L264.1 289.1L266.8 287L269.5 285.1L272.2 283.1L275 281.1L277.8 279.2L280.6 277.3L283.1 275.5L285.4 273.9L287.3 272.6L288.8 271.6L285.8 267.4L284.4 268.4L282.5 269.7L280.2 271.3L277.6 273.1L274.9 275L272.1 277L269.3 279L266.5 280.9L263.8 282.9L261 285L258.2 287.2L255.3 289.3L252.3 291.5L249.4 293.7L246.4 295.8L243.4 297.9L240.2 299.9L236.9 302L233.5 304.1L230.1 306.3L226.8 308.4L223.6 310.4L220.7 312.2L218.1 313.8L215.7 315.2L213.5 316.5L211.4 317.6L209.5 318.5L207.8 319.4L206.2 320.1L204.9 320.7L203.9 321.1ZM204.9 323.9L206.1 323.6L207.5 323.2L209.2 322.8L211.2 322.3L213.4 321.7L216 321.1L218.9 320.2L222.1 319.3L225.9 318.1L230.1 316.7L234.8 315.2L239.7 313.5L244.6 311.6L249.5 309.8L254.3 308L258.7 306.4L262.9 304.8L267 303.3L271 301.8L274.9 300.3L278.7 298.9L282.5 297.5L286.2 296.1L289.8 294.8L293.6 293.5L297.5 292.2L301.4 290.9L305.2 289.7L308.8 288.5L312 287.5L314.7 286.6L316.8 285.9L315.2 281.1L313.2 281.7L310.5 282.6L307.3 283.6L303.7 284.8L299.8 286.1L295.9 287.4L291.9 288.7L288.2 290L284.5 291.3L280.7 292.7L276.9 294.1L273.1 295.5L269.2 297L265.2 298.5L261.1 300.1L256.9 301.6L252.5 303.3L247.7 305L242.8 306.9L237.9 308.7L233.1 310.6L228.6 312.5L224.4 314.1L220.9 315.5L217.8 316.7L215 317.7L212.5 318.5L210.3 319.3L208.4 319.9L206.7 320.3L205.3 320.7L204.1 321.1ZM204.8 324L206.3 323.7L208.2 323.3L210.4 323L213 322.6L215.8 322.2L218.9 321.7L222.1 321.1L225.5 320.5L229 319.8L232.8 319.1L236.7 318.2L240.9 317.2L245.1 316.1L249.5 315.1L253.9 314.1L258.3 313.1L262.8 312.2L267.4 311.2L272 310.3L276.8 309.3L281.6 308.5L286.6 307.7L291.7 306.9L297 306.3L302.8 305.9L309.3 305.5L316.2 305.2L323.1 304.9L329.8 304.7L335.8 304.6L340.8 304.5L344.6 304.3L344.4 299.3L340.7 299.4L335.6 299.5L329.6 299.6L323 299.8L316 300.1L309 300.4L302.4 300.8L296.4 301.3L291 301.9L285.8 302.6L280.8 303.4L275.8 304.3L271.1 305.3L266.4 306.2L261.8 307.2L257.3 308.1L252.8 309.1L248.3 310.1L243.9 311.2L239.6 312.3L235.5 313.4L231.6 314.5L228 315.5L224.5 316.5L221.3 317.3L218.2 318L215.2 318.7L212.4 319.4L209.9 319.9L207.6 320.4L205.7 320.7L204.2 321ZM204.5 324L206.1 324L208.2 324L210.7 324.2L213.5 324.3L216.5 324.4L219.4 324.5L222.4 324.6L225.1 324.7L227.5 324.7L229.7 324.6L231.8 324.5L234 324.4L236.2 324.3L238.6 324.2L241.5 324.1L244.8 324L248.7 324L253.1 324L257.9 324.1L262.9 324.1L268.1 324.3L273.3 324.4L278.4 324.7L283.5 325.1L288.7 325.7L294.4 326.5L300.3 327.4L306.1 328.4L311.7 329.3L316.7 330.2L320.9 331L324.1 331.5L324.9 326.5L321.8 326L317.6 325.2L312.5 324.3L307 323.4L301.1 322.4L295.1 321.5L289.3 320.7L283.9 320.1L278.8 319.6L273.5 319.4L268.2 319.2L263 319L257.9 319L253.1 318.9L248.7 318.9L244.8 319L241.4 319L238.4 319.1L235.8 319.3L233.5 319.6L231.4 319.9L229.4 320.1L227.3 320.3L224.9 320.5L222.3 320.7L219.4 320.8L216.5 320.9L213.5 320.9L210.7 321L208.2 321L206.1 321L204.5 321ZM204.1 323.9L205.4 324.3L207.1 324.9L209.1 325.6L211.3 326.4L213.8 327.3L216.4 328.1L219 328.9L221.6 329.6L224.3 330.1L227 330.5L229.8 330.9L232.7 331.2L235.5 331.6L238.4 332L241.3 332.4L244.2 333L247.3 333.7L250.4 334.6L253.7 335.5L257 336.5L260.2 337.6L263.5 338.8L266.7 340L269.8 341.3L272.9 342.8L276.2 344.6L279.6 346.5L283 348.5L286.1 350.4L289 352.1L291.4 353.6L293.2 354.7L295.8 350.3L294 349.2L291.6 347.8L288.8 346L285.6 344.1L282.2 342.1L278.7 340.1L275.2 338.3L271.8 336.7L268.6 335.3L265.3 334L261.9 332.8L258.5 331.7L255.1 330.6L251.8 329.7L248.5 328.8L245.4 328L242.2 327.4L239.1 326.9L236 326.6L233.1 326.5L230.2 326.3L227.5 326.2L224.9 326L222.4 325.6L219.9 325.2L217.3 324.6L214.8 324L212.3 323.3L210 322.7L208 322L206.3 321.5L204.9 321.1ZM203.6 323.7L204.2 324.2L205 324.8L206 325.5L207.1 326.4L208.3 327.3L209.7 328.3L211.2 329.3L213 330.3L214.9 331.2L217.2 332L219.6 332.9L222 333.7L224.5 334.6L226.8 335.6L228.9 336.5L230.6 337.6L232.2 338.7L233.7 340L235.1 341.4L236.5 342.8L237.9 344.3L239.1 345.8L240.4 347.3L241.6 348.7L242.7 350L243.7 351.3L244.7 352.6L245.6 353.9L246.5 355.2L247.2 356.3L247.9 357.2L248.4 358L252.6 355L252.1 354.3L251.5 353.4L250.7 352.3L249.8 351L248.8 349.6L247.8 348.2L246.6 346.7L245.4 345.3L244.3 344L243 342.5L241.7 341L240.3 339.3L238.7 337.7L237 336.2L235.2 334.7L233.2 333.4L230.9 332.3L228.4 331.4L225.9 330.5L223.3 329.8L220.7 329.1L218.4 328.4L216.2 327.8L214.4 327.1L212.9 326.4L211.4 325.6L210.1 324.8L208.9 324L207.8 323.2L206.9 322.4L206.1 321.8L205.4 321.3Z" fill="#2b1613" stroke="#2b1613" stroke-width="0.3" stroke-linejoin="round"/>
<path d="M204.6 322.6L205.2 322.1L206 321.5L207 320.7L208.1 319.9L209.3 318.9L210.6 317.9L212.2 316.8L213.8 315.7L215.7 314.5L217.9 313.2L220.2 311.8L222.7 310.4L225.2 308.9L227.7 307.3L230.1 305.7L232.3 304.1L234.5 302.4L236.7 300.6L238.8 298.7L240.8 296.8L242.8 294.9L244.6 292.9L246.4 291L248.1 289.1L249.6 287.2L251 285.2L252.3 283.3L253.5 281.4L254.6 279.5L255.7 277.7L256.7 275.9L257.7 274.2L258.8 272.4L259.9 270.6L260.9 268.8L261.9 267.1L262.8 265.5L263.6 264.1L264.2 262.9L264.8 261.9L263.2 261.1L262.7 262L262 263.2L261.2 264.6L260.3 266.2L259.4 268L258.3 269.7L257.3 271.5L256.3 273.2L255.2 275L254.2 276.8L253.1 278.6L252 280.5L250.8 282.3L249.6 284.2L248.2 286.1L246.7 287.9L245.1 289.8L243.4 291.7L241.5 293.6L239.6 295.5L237.6 297.4L235.5 299.3L233.5 301.2L231.5 302.9L229.3 304.6L227 306.3L224.6 308L222.2 309.6L219.8 311.2L217.5 312.6L215.4 314L213.6 315.3L211.9 316.5L210.5 317.6L209.1 318.7L207.9 319.6L206.8 320.5L205.8 321.2L205.1 321.9L204.4 322.4ZM204.6 322.6L205.6 322.2L206.9 321.6L208.4 320.9L210.2 320.1L212.2 319.2L214.3 318.2L216.7 317.1L219.2 315.8L221.9 314.3L225 312.7L228.2 310.9L231.7 308.9L235.2 306.9L238.7 304.9L242.1 302.8L245.3 300.7L248.4 298.6L251.4 296.5L254.4 294.3L257.3 292.1L260.2 289.9L263.1 287.7L265.8 285.7L268.5 283.7L271.2 281.8L274.1 279.8L276.9 277.8L279.6 275.9L282.1 274.1L284.4 272.6L286.3 271.2L287.8 270.2L286.8 268.8L285.3 269.8L283.4 271.1L281.1 272.7L278.6 274.5L275.9 276.4L273 278.3L270.2 280.3L267.5 282.3L264.8 284.3L262 286.3L259.2 288.5L256.3 290.7L253.3 292.9L250.4 295.1L247.4 297.2L244.3 299.3L241.2 301.3L237.8 303.5L234.4 305.7L231 307.8L227.7 309.9L224.5 311.8L221.5 313.6L218.8 315.2L216.4 316.6L214.1 317.8L212 318.9L210.1 319.8L208.3 320.6L206.8 321.3L205.5 321.9L204.4 322.4ZM204.5 322.6L205.7 322.3L207.1 321.9L208.8 321.5L210.8 320.9L213 320.3L215.6 319.6L218.4 318.7L221.6 317.8L225.3 316.5L229.5 315.1L234.2 313.5L239 311.8L244 310.1L248.9 308.2L253.7 306.5L258.1 304.8L262.3 303.3L266.4 301.7L270.4 300.2L274.3 298.7L278.1 297.3L281.9 295.9L285.6 294.5L289.3 293.2L293 291.9L297 290.6L300.9 289.3L304.7 288.1L308.3 286.9L311.5 285.9L314.2 285L316.3 284.3L315.7 282.7L313.7 283.3L311 284.2L307.8 285.2L304.2 286.4L300.3 287.6L296.4 288.9L292.5 290.3L288.7 291.6L285 292.9L281.3 294.2L277.5 295.7L273.7 297.1L269.7 298.6L265.7 300.1L261.7 301.6L257.5 303.2L253.1 304.8L248.3 306.6L243.4 308.4L238.5 310.4L233.7 312.3L229.1 314.1L225 315.7L221.4 317L218.2 318.2L215.4 319.2L212.9 320L210.7 320.6L208.7 321.2L207.1 321.6L205.6 322L204.5 322.4ZM204.5 322.6L206 322.4L207.9 322L210.2 321.6L212.7 321.1L215.6 320.7L218.6 320.2L221.8 319.6L225.1 318.9L228.6 318.2L232.3 317.4L236.3 316.5L240.4 315.5L244.7 314.5L249.1 313.4L253.5 312.4L258 311.5L262.5 310.5L267.1 309.6L271.7 308.6L276.5 307.7L281.3 306.8L286.3 306L291.5 305.3L296.8 304.7L302.6 304.2L309.2 303.8L316.1 303.5L323.1 303.2L329.7 303.1L335.7 302.9L340.8 302.8L344.5 302.7L344.5 300.9L340.7 301L335.7 301.2L329.7 301.3L323 301.5L316 301.7L309.1 302L302.5 302.4L296.6 302.9L291.3 303.5L286.1 304.3L281 305.1L276.2 306L271.4 306.9L266.7 307.9L262.1 308.8L257.6 309.7L253.1 310.7L248.7 311.7L244.3 312.8L240.1 314L236 315.1L232 316.2L228.3 317.2L224.9 318.1L221.6 318.9L218.5 319.6L215.5 320.2L212.7 320.8L210.1 321.3L207.9 321.7L206 322.1L204.5 322.4ZM204.5 322.6L206.1 322.7L208.2 322.7L210.7 322.7L213.5 322.8L216.5 322.9L219.4 323L222.3 323L225 323L227.4 323L229.6 322.9L231.7 322.8L233.8 322.6L236.1 322.5L238.6 322.4L241.4 322.3L244.8 322.4L248.7 322.4L253.1 322.4L257.9 322.4L262.9 322.5L268.1 322.6L273.4 322.8L278.6 323.1L283.6 323.5L288.9 324.1L294.6 324.8L300.5 325.8L306.4 326.7L312 327.7L317 328.6L321.2 329.3L324.4 329.9L324.6 328.1L321.5 327.6L317.3 326.9L312.3 326L306.7 325L300.8 324L294.8 323.1L289.1 322.3L283.8 321.7L278.7 321.3L273.4 321L268.2 320.8L263 320.7L257.9 320.6L253.1 320.6L248.7 320.6L244.8 320.6L241.4 320.7L238.5 320.9L236 321.1L233.7 321.4L231.6 321.6L229.5 321.8L227.4 322L225 322.2L222.3 322.3L219.4 322.3L216.5 322.4L213.5 322.4L210.7 322.4L208.2 322.4L206.1 322.4L204.5 322.4ZM204.5 322.6L205.8 323.1L207.5 323.6L209.5 324.3L211.8 325L214.2 325.8L216.8 326.6L219.4 327.3L221.9 328L224.5 328.5L227.2 328.8L230 329.2L232.8 329.5L235.7 329.8L238.7 330.2L241.6 330.7L244.6 331.4L247.7 332.1L250.9 333L254.2 333.9L257.5 334.9L260.8 336L264.1 337.2L267.3 338.5L270.4 339.8L273.6 341.3L277 343.1L280.5 345L283.8 347L287 349L289.8 350.7L292.2 352.2L294.1 353.3L294.9 351.7L293.1 350.7L290.8 349.2L287.9 347.5L284.7 345.5L281.3 343.5L277.9 341.6L274.4 339.8L271.2 338.2L268 336.8L264.7 335.6L261.4 334.4L258 333.3L254.7 332.2L251.4 331.3L248.1 330.4L245 329.6L241.9 329.1L238.8 328.7L235.9 328.4L232.9 328.2L230.1 328L227.3 327.9L224.6 327.6L222.1 327.2L219.5 326.7L216.9 326.1L214.3 325.4L211.9 324.7L209.6 324L207.6 323.3L205.9 322.8L204.5 322.4ZM204.4 322.6L205.1 323.1L205.8 323.7L206.8 324.5L207.9 325.3L209.1 326.2L210.5 327.1L212 328L213.6 328.9L215.5 329.7L217.7 330.5L220 331.4L222.5 332.2L225 333L227.4 334L229.6 335L231.6 336.1L233.3 337.3L234.9 338.7L236.4 340.1L237.8 341.7L239.1 343.2L240.4 344.7L241.6 346.2L242.8 347.6L244 348.9L245 350.3L246.1 351.6L247 353L247.9 354.2L248.6 355.3L249.3 356.3L249.8 357L251.2 356L250.7 355.3L250.1 354.3L249.3 353.2L248.4 352L247.5 350.6L246.4 349.2L245.3 347.8L244.2 346.4L243 345.1L241.7 343.6L240.4 342.1L239 340.5L237.5 339L235.9 337.5L234.1 336.2L232.2 334.9L230.1 333.9L227.8 332.9L225.3 332.1L222.8 331.4L220.3 330.6L217.9 329.9L215.7 329.2L213.8 328.5L212.1 327.7L210.6 326.8L209.3 325.9L208.1 325.1L207 324.2L206 323.5L205.2 322.9L204.6 322.4Z" fill="#e9b6a8"/>
</g>
<path d="M201.9 321.5L203.7 317.4L208 315L213.5 313.2L211 317L212 320L212.5 323L212 326L211.5 329L213.5 334.6L208 333L204 330.5L202.2 326Z" fill="#301815" stroke="#301815" stroke-width="0.8" stroke-linejoin="round"/>
<path d="M340.1 178.3C340.2 176.7 341.9 173.6 343.7 171.7C345.5 169.8 348.8 167.7 351 166.6C353.2 165.5 355 165.5 356.8 165.2C358.6 164.8 360.3 165 361.9 164.5C363.5 164 365 162.2 366.3 162C367.6 161.8 368.7 162.1 369.9 163C371.1 163.9 372.1 166.1 373.6 167.4C375.1 168.7 377.4 169.8 378.7 171C380 172.2 381.2 173.4 381.6 174.7C382 176 381.6 177.8 380.9 179C380.2 180.2 378.5 181.1 377.2 181.9C375.9 182.8 374 182.9 372.8 184.1C371.6 185.3 371 188.2 369.9 189.2C368.8 190.2 367.5 190.3 366.3 189.9C365.1 189.5 364 187.3 362.7 187C361.4 186.7 359.8 187.4 358.3 187.8C356.8 188.2 355.2 189.4 353.9 189.2C352.6 188.9 351.4 187.4 350.3 186.3C349.2 185.2 348.6 183.5 347.4 182.7C346.2 181.8 344.2 181.9 343 181.2C341.8 180.5 340 179.9 340.1 178.3Z" fill="#e87fa6" stroke="#2b1613" stroke-width="2.2" stroke-linejoin="round"/>
<path d="M285.6 213.5C286.4 211.5 287.8 207.7 289.5 205.8C291.2 203.9 294.3 203.6 296 201.9C297.7 200.2 298.1 197.1 299.8 195.4C301.5 193.7 303.9 191.9 306.3 191.5C308.7 191.1 311.4 192.6 314 192.8C316.6 193 319.5 192.4 321.9 192.8C324.3 193.2 326.9 194.3 328.4 195.4C329.9 196.5 331 198 331 199.3C331 200.6 329.7 202.1 328.4 203.2C327.1 204.3 324.5 204.5 323.2 205.8C321.9 207.1 321.7 209.5 320.6 211C319.5 212.5 318.6 214 316.7 214.8C314.8 215.7 311.1 215.3 308.9 216.1C306.7 216.9 305.4 219.1 303.7 219.5C302 219.9 300.2 218.2 298.5 218.7C296.8 219.2 295 221.9 293.3 222.6C291.6 223.2 289.6 223.4 288.2 222.6C286.8 221.8 285.2 219.5 284.8 218C284.4 216.5 284.8 215.5 285.6 213.5Z" fill="#e87fa6" stroke="#2b1613" stroke-width="2.2" stroke-linejoin="round"/>
<path d="M331 222.6C331.2 220.7 333.1 217.4 334.8 216.1C336.5 214.8 339.4 215.5 341.3 214.8C343.2 214.2 345 213.9 346.5 212.2C348 210.5 348.9 206.3 350.4 204.5C351.9 202.7 353.9 201.3 355.6 201.3C357.3 201.3 358.9 203.6 360.8 204.5C362.8 205.4 365.8 205.4 367.3 206.5C368.8 207.6 369.7 209.4 369.8 211C369.9 212.6 368 214.4 368 216.1C368 217.8 369.4 219.4 369.8 221.3C370.2 223.2 371.2 226.2 370.6 227.8C370 229.4 367.9 230.2 366 231C364.1 231.8 361.4 231.9 359.5 232.5C357.6 233.1 356.1 233.1 354.3 234.3C352.6 235.5 350.7 238.8 349 239.5C347.3 240.2 345.5 239.1 344 238.2C342.5 237.3 341 235.8 340 234.3C339 232.8 339.1 230.2 338 229C336.9 227.8 334.7 228.4 333.5 227.3C332.3 226.2 330.8 224.5 331 222.6Z" fill="#e87fa6" stroke="#2b1613" stroke-width="2.2" stroke-linejoin="round"/>
<path d="M260 243.8C260.6 241.9 261.7 237.8 263 236C264.3 234.2 266.4 233.2 267.8 233C269.2 232.8 270.9 233.7 271.7 235C272.5 236.3 272.2 239.1 272.7 240.9C273.2 242.7 274 244.1 274.6 245.7C275.2 247.3 276.6 249 276.6 250.6C276.6 252.2 275.2 253.9 274.6 255.4C274 256.9 273.7 258 272.7 259.3C271.7 260.6 270.3 262.8 268.8 263.2C267.3 263.6 265.2 262.9 263.9 261.9C262.6 260.9 261.4 259.1 261 257.4C260.6 255.7 261.8 253.2 261.6 251.6C261.4 250 259.9 249 259.6 247.7C259.3 246.4 259.4 245.8 260 243.8Z" fill="#e87fa6" stroke="#2b1613" stroke-width="2.2" stroke-linejoin="round"/>
<path d="M284.3 247.7C285 245.3 285.9 239.3 287.3 237C288.8 234.7 291.1 234.8 293 234C294.9 233.2 297.3 233 298.9 232C300.5 231 301 229 302.8 228.2C304.6 227.4 308 226.6 309.6 227.2C311.2 227.8 312.2 230.2 312.5 232C312.8 233.8 311.1 236.4 311.6 238C312.1 239.6 314.7 240 315.5 241.8C316.3 243.6 316.7 246.7 316.4 248.6C316.1 250.5 313.8 251.7 313.5 253.5C313.2 255.3 315 257.8 314.5 259.3C314 260.8 312.6 261.3 310.6 262.3C308.7 263.3 305.1 264.2 302.8 265.2C300.5 266.1 299 267.1 297 268C295 268.9 292.8 270.2 291 270.4C289.2 270.6 287.6 270.4 286.3 269C285 267.6 283.3 264.4 283 262.3C282.7 260.2 284.2 258.2 284.3 256.4C284.4 254.6 283.4 253 283.4 251.6C283.4 250.2 283.6 250.1 284.3 247.7Z" fill="#e87fa6" stroke="#2b1613" stroke-width="2.2" stroke-linejoin="round"/>
<path d="M313.6 274.6C313.8 272.2 316.1 269.1 317 266.7C317.9 264.3 318 261.7 319.3 260C320.6 258.3 322.4 257.4 324.9 256.5C327.3 255.7 331.2 255.5 334 254.9C336.8 254.3 339.4 252.7 341.9 252.7C344.3 252.7 346.4 254.1 348.7 254.9C351 255.7 353.7 257.1 355.5 257.7C357.3 258.3 358.4 257.7 359.4 258.8C360.3 259.9 361.1 262.8 361.2 264.5C361.3 266.2 359.7 267.5 360 269C360.3 270.5 363.2 272 363 273.5C362.8 275 360.7 276.7 358.9 278C357.1 279.3 354.1 280.3 352 281.4C349.9 282.5 348.6 284 346.4 284.8C344.1 285.6 340.6 285.5 338.5 286C336.4 286.5 335.5 286.7 334 287.6C332.5 288.5 331.2 290.9 329.5 291.2C327.8 291.5 325.7 290.3 323.8 289.4C321.9 288.5 319.3 287.3 318 286C316.7 284.7 316.6 283.3 315.9 281.4C315.2 279.5 313.4 277.1 313.6 274.6Z" fill="#e87fa6" stroke="#2b1613" stroke-width="2.2" stroke-linejoin="round"/>
<path d="M344.2 303C344.4 301 345.1 297.3 346.4 295C347.7 292.7 349.9 291 352 289.4C354.1 287.8 356.4 286.4 358.9 285.3C361.4 284.2 364.5 282.9 366.8 282.6C369.1 282.3 370.6 282.9 372.5 283.7C374.4 284.5 375.8 286.9 378.2 287.6C380.6 288.4 384.8 288.1 387.2 288.2C389.6 288.3 391.7 287.1 392.9 288.2C394.1 289.2 394.1 292.4 394.2 294.5C394.3 296.6 394.6 299.4 393.4 300.8C392.2 302.2 389.2 302.7 387.2 303.2C385.2 303.7 383.3 303.1 381.6 304C379.9 304.9 378.5 307.1 377 308.6C375.5 310.1 374.2 312.8 372.5 313.2C370.8 313.6 368.7 311.3 366.8 310.9C364.9 310.5 363.1 310.5 361.2 310.9C359.3 311.3 357.2 313.6 355.5 313.2C353.8 312.8 352.7 309.6 351 308.6C349.3 307.6 346.4 307.9 345.3 307C344.2 306.1 344 305 344.2 303Z" fill="#e87fa6" stroke="#2b1613" stroke-width="2.2" stroke-linejoin="round"/>
<path d="M323.5 331.5C323.9 329.6 325.8 326.6 327.6 324.7C329.4 322.8 331.8 321.2 334.4 320.2C337 319.2 340.4 318.6 343.4 318.6C346.4 318.6 349.9 320.1 352.5 320.2C355.1 320.3 357.2 318.4 359.3 319C361.4 319.6 363.5 321.9 365 323.6C366.5 325.3 366.7 328.1 368.4 329.3C370.1 330.5 372.9 330.2 375 330.8C377.1 331.4 379.5 331.4 380.8 332.7C382.1 333.9 382.8 336.4 383 338.3C383.2 340.2 381.5 342.3 382 344C382.5 345.7 385.8 347 386 348.5C386.2 350 384.4 351.9 383 353C381.6 354.1 379.5 355.5 377.4 355.3C375.3 355.1 372.7 352.8 370.6 351.9C368.5 350.9 366.9 350.6 365 349.6C363.1 348.7 361.4 347.1 359.3 346.2C357.2 345.3 354.8 344.9 352.5 344C350.2 343.1 347.8 340.8 345.7 340.6C343.6 340.4 341.9 342.1 340 342.8C338.1 343.5 336.1 345.4 334.4 345C332.7 344.6 331.3 342.1 329.8 340.6C328.3 339.1 326.4 337.5 325.3 336C324.2 334.5 323.1 333.4 323.5 331.5Z" fill="#e87fa6" stroke="#2b1613" stroke-width="2.2" stroke-linejoin="round"/>
<path d="M243.3 367.8C243.1 365.7 244.5 363 245.6 361C246.7 359 248.3 356.6 250 355.8C251.7 355.1 253.7 356 255.8 356.5C257.9 357 260.9 358.1 262.6 358.8C264.3 359.6 265.1 359.7 266 361C266.9 362.3 267.4 364.8 268.2 366.7C268.9 368.6 269.6 370.5 270.5 372.4C271.4 374.3 272.6 376.3 273.9 378C275.2 379.7 277.4 380.9 278.4 382.6C279.3 384.3 280 386.7 279.6 388.2C279.2 389.7 277.5 390.7 276.2 391.6C274.9 392.6 272.9 392.6 271.6 393.9C270.3 395.2 269.6 398.3 268.2 399.5C266.8 400.7 264.6 401.6 263 401C261.4 400.4 259.9 397.6 258.5 396C257.1 394.4 256 392.9 254.6 391.6C253.2 390.3 250.9 389.7 250 388.2C249.1 386.7 248.9 384.5 249 382.6C249.1 380.7 251.2 378.4 250.8 376.9C250.4 375.4 247.9 375 246.7 373.5C245.4 372 243.5 369.9 243.3 367.8Z" fill="#e87fa6" stroke="#2b1613" stroke-width="2.2" stroke-linejoin="round"/>
<path d="M333.2 385.9C333.4 384 334.9 380.1 336.6 378C338.3 375.9 341.3 374.7 343.4 373.4C345.5 372.1 347.3 371.5 349 370C350.7 368.5 351.9 365 353.6 364.4C355.3 363.8 357.2 365.1 359.3 366.2C361.4 367.3 363.7 370.2 366 371.2C368.3 372.2 371 372.9 372.9 372.3C374.8 371.7 375.7 368.4 377.4 367.8C379.1 367.2 381.5 367.8 383 368.9C384.5 370 385.7 372.5 386.5 374.6C387.3 376.7 387.8 379.3 387.6 381.4C387.4 383.5 385.9 385.1 385.3 387C384.7 388.9 383.6 391 384.2 392.7C384.8 394.4 387.6 395.5 388.7 397.2C389.8 398.9 391.2 401.2 391 402.9C390.8 404.6 389.1 406.6 387.6 407.4C386.1 408.2 383.9 408.5 382 407.9C380.1 407.3 377.8 405.6 376.3 404C374.8 402.4 374.4 399.9 372.9 398.4C371.4 396.9 369.3 395.9 367.2 395C365.1 394.1 362.5 392.7 360.4 392.7C358.3 392.7 356.7 395 354.8 395C352.9 395 350.5 393.8 349 392.7C347.5 391.6 347.2 389.1 345.7 388.2C344.2 387.2 341.7 386.8 340 387C338.3 387.2 336.6 389.5 335.5 389.3C334.4 389.1 333 387.8 333.2 385.9Z" fill="#e87fa6" stroke="#2b1613" stroke-width="2.2" stroke-linejoin="round"/>
<path d="M294.7 409.7C294.5 408.4 296.5 405.7 298 404C299.5 402.3 301.5 400.4 303.8 399.5C306.1 398.6 309.1 398.4 311.7 398.4C314.3 398.4 317 399.7 319.6 399.5C322.2 399.3 325.3 397.2 327.6 397.2C329.9 397.2 331.9 398.2 333.2 399.5C334.5 400.8 334.4 403.5 335.5 405C336.6 406.5 338.5 407.3 340 408.6C341.5 409.9 343.7 411.3 344.6 413C345.6 414.7 346.1 417.2 345.7 418.7C345.3 420.2 343.8 421.6 342.3 422C340.8 422.4 338.5 420.8 336.6 421C334.7 421.2 332.9 422.9 331 423.3C329.1 423.7 327.2 423.7 325.3 423.3C323.4 422.9 321.5 421.6 319.6 421C317.7 420.4 315.7 420.6 314 419.9C312.3 419.1 311 417.6 309.5 416.5C308 415.4 306.7 413.8 305 413C303.3 412.2 301 412.6 299.3 412C297.6 411.4 294.9 411 294.7 409.7Z" fill="#e87fa6" stroke="#2b1613" stroke-width="2.2" stroke-linejoin="round"/>
<path d="M286.9 364.2C287 362.9 287.2 361.2 287.8 360C288.4 358.8 289.3 357.8 290.2 356.9C291.1 356 292.5 355.4 293.3 354.5C294.1 353.6 294.2 352.2 295.1 351.4C296 350.5 297.5 349.9 298.8 349.4C300.1 348.9 301.6 348.9 303 348.6C304.4 348.3 305.9 348.1 307.3 347.8C308.7 347.5 310.1 347 311.5 346.9C312.9 346.8 314.5 346.9 315.8 347.2C317.1 347.4 318.3 347.8 319.5 348.4C320.7 349 322.1 349.9 323.1 350.8C324.1 351.7 324.6 353.2 325.5 353.9C326.4 354.6 327.6 354.5 328.6 355.1C329.6 355.7 330.7 356.6 331.6 357.5C332.5 358.4 333.5 359.4 334.1 360.6C334.7 361.8 335.2 363.4 335.3 364.8C335.4 366.2 334.6 367.8 334.7 369.1C334.8 370.4 335.9 371.5 335.9 372.8C335.9 374.1 335.3 375.7 334.7 377C334.1 378.3 333.2 379.7 332.2 380.7C331.2 381.7 329.8 382.5 328.6 383.1C327.4 383.7 326.1 383.8 324.9 384.3C323.7 384.8 322.6 385.7 321.3 386.2C320 386.7 318.4 387.2 317 387.4C315.6 387.6 314.2 387.7 312.8 387.6C311.4 387.5 309.8 387.2 308.5 386.8C307.2 386.4 306 385.9 304.8 385.5C303.6 385.1 302.2 384.9 301.2 384.3C300.2 383.7 299.6 382.7 298.8 381.9C298 381.1 297.2 380.2 296.3 379.5C295.4 378.8 294.3 378.3 293.3 377.6C292.3 376.9 291 376.2 290.2 375.2C289.4 374.2 288.9 372.7 288.4 371.5C287.8 370.3 287.1 369.1 286.9 367.9C286.6 366.7 286.8 365.5 286.9 364.2Z" fill="#f5f1ea" stroke="#2b1613" stroke-width="2"/>
<circle cx="297.5" cy="355.7" r="2.3" fill="#d0cdbc" opacity="0.8" filter="url(#b3)"/>
<circle cx="315.2" cy="353.3" r="2.3" fill="#d0cdbc" opacity="0.8" filter="url(#b3)"/>
<circle cx="298.8" cy="363.6" r="2.3" fill="#d0cdbc" opacity="0.8" filter="url(#b3)"/>
<circle cx="311" cy="364.8" r="2.3" fill="#d0cdbc" opacity="0.8" filter="url(#b3)"/>
<circle cx="326.2" cy="361.2" r="2.3" fill="#d0cdbc" opacity="0.8" filter="url(#b3)"/>
<circle cx="293.3" cy="370.8" r="2.3" fill="#d0cdbc" opacity="0.8" filter="url(#b3)"/>
<circle cx="304.8" cy="380.2" r="2.3" fill="#d0cdbc" opacity="0.8" filter="url(#b3)"/>
<circle cx="316.4" cy="381.3" r="2.3" fill="#d0cdbc" opacity="0.8" filter="url(#b3)"/>
<circle cx="328.6" cy="371.5" r="2.3" fill="#d0cdbc" opacity="0.8" filter="url(#b3)"/>
<circle cx="306" cy="355.5" r="2.3" fill="#d0cdbc" opacity="0.8" filter="url(#b3)"/>
<circle cx="320.5" cy="367.5" r="2.3" fill="#d0cdbc" opacity="0.8" filter="url(#b3)"/>
<circle cx="302.5" cy="372.5" r="2.3" fill="#d0cdbc" opacity="0.8" filter="url(#b3)"/>
<circle cx="324" cy="378" r="2.3" fill="#d0cdbc" opacity="0.8" filter="url(#b3)"/>
<circle cx="310.5" cy="374" r="2.3" fill="#d0cdbc" opacity="0.8" filter="url(#b3)"/>
<path d="M414.1 34.8C415.2 32.2 416.8 32.6 418.5 31.6C420.2 30.6 421.2 30 424.2 28.9C427.1 27.8 432.3 26.4 436.2 25.2C440.1 24 443.6 22.8 447.3 21.8C451 20.8 454.8 19.8 458.6 19.2C462.4 18.6 466.2 18.2 470 18C473.8 17.8 477.5 17.7 481.3 17.7C485.1 17.7 489 17.9 492.6 18.2C496.2 18.5 499.8 18.9 503 19.5C506.2 20.1 509.3 20.7 512 21.6C514.7 22.5 516.9 23.5 519 24.8C521.1 26.1 522.8 27.6 524.5 29.5C526.2 31.4 527.7 33.8 529 36.5C530.3 39.2 531.5 42.4 532.5 45.5C533.5 48.6 533.8 48.6 535.3 55C536.8 61.4 539.9 74.3 541.8 84C543.7 93.7 545.4 103.3 546.5 113C547.6 122.7 548.1 134.2 548.6 142C549.1 149.8 549.2 150.3 549.5 160C549.8 169.7 550.1 188.2 550.3 200C550.5 211.8 550.6 219.3 550.6 231C550.6 242.7 550.5 256.8 550.4 270C550.3 283.2 550.1 295 550 310C549.9 325 549.8 345 549.6 360C549.4 375 549.4 389.2 549 400C548.6 410.8 548.1 416.9 547.2 425C546.3 433.1 545.1 441.9 543.8 448.5C542.5 455.1 541.6 459.8 539.6 464.7C537.6 469.6 534.8 474.2 531.5 477.7C528.2 481.2 523.2 483.6 520 485.7C516.8 487.8 514.8 488.9 512.4 490C510 491.1 508.6 491.6 505.9 492.5C503.2 493.4 499.4 494.8 496.2 495.7C493 496.6 489.2 497.4 486.5 498C483.8 498.6 483.6 498.7 480 499.3C476.4 499.9 470 501.1 465 501.6C460 502.2 454 502.4 450 502.6C446 502.8 444 502.8 441 502.7C438 502.6 435 502.6 432 502.3C429 502 425.9 501.6 422.9 500.9C419.9 500.2 416.9 499.6 414 498.2C411.1 496.8 408 494.8 405.7 492.7C403.4 490.6 401.5 488.2 400.2 485.8C398.9 483.4 398.4 480.8 397.8 478.2C397.2 475.6 397.4 473.5 396.8 470C396.2 466.5 395.1 460 394.4 457C393.7 454 393.3 454 392.7 452.2C392.1 450.4 391.4 448.2 390.6 446C389.8 443.8 388.8 441 387.9 439.2C387 437.4 386.1 436 385.1 435C384.1 434 383.1 433.4 381.7 433.3C380.3 433.2 379 434.1 376.9 434.4C374.8 434.7 373.5 434.5 368.9 435.2C364.3 435.9 354.8 437.6 349.5 438.3C344.2 439 343.1 439.3 337.3 439.2C331.5 439.1 322.2 438.7 314.7 437.7C307.1 436.7 299.5 435.5 292 433.2C284.5 430.9 276.4 427.6 269.8 423.6C263.2 419.6 257.5 414.2 252.4 409.2C247.3 404.1 242.8 398.8 239 393.3C235.2 387.8 232.3 381.8 229.6 376C226.8 370.2 224.5 362.8 222.5 358.5C220.5 354.2 218.8 352.2 217.5 350C216.2 347.8 215.4 346.5 214.5 345C213.6 343.5 213.3 342.3 212.3 341C211.3 339.7 210 338.3 208.6 337.3C207.2 336.3 205.1 336.2 203.7 335.2C202.3 334.2 201.1 332.8 200.2 331.3C199.3 329.8 198.6 328 198.2 326.4C197.8 324.8 197.5 323.1 197.6 321.5C197.7 319.9 198.2 318.2 198.9 317C199.6 315.8 200.5 315 201.9 314.2C203.3 313.4 205.6 313.1 207.1 312.1C208.6 311.2 209.9 310 211 308.5C212.1 307 212.5 305.2 213.5 302.9C214.5 300.6 215.6 298.3 217 294.5C218.4 290.7 220.1 284.6 221.8 280C223.5 275.4 225.1 271.6 227.3 267C229.5 262.4 232.2 257.5 235.2 252.5C238.1 247.5 241.3 242.2 245 237C248.7 231.8 253.4 226.3 257.6 221.5C261.8 216.7 265.9 211.9 270 208C274.1 204.1 277.7 201.4 282 198C286.3 194.6 289.4 192.4 296 187.5C302.6 182.6 313.7 174.9 321.9 168.8C330.1 162.7 337.8 157.1 345.2 151C352.6 144.9 359.9 138.8 366 132.5C372.1 126.2 377.4 118.4 381.5 113C385.6 107.6 387.2 105.3 390.3 100C393.4 94.7 397.2 87.1 400 81C402.8 74.9 404.9 69.1 406.8 63.5C408.8 57.9 410.5 52 411.7 47.2C412.9 42.4 413 37.4 414.1 34.8Z" fill="none" stroke="#2b1613" stroke-width="2.2" stroke-linejoin="round"/>
<path d="M172 272.8H259" stroke="#161010" stroke-width="2.5" fill="none"/>
<path d="M196.5 376.2H317" stroke="#161010" stroke-width="2.2" fill="none"/>
<text x="68" y="282" font-family="'Liberation Sans','Noto Sans CJK SC',sans-serif" font-size="22" fill="#161616" stroke="#161616" stroke-width="0.4">乳腺导管</text>
<text x="62.5" y="386" font-family="'Liberation Sans','Noto Sans CJK SC',sans-serif" font-size="30" fill="#161616" stroke="#161616" stroke-width="0.6">乳腺结节</text>
</svg></body></html>
